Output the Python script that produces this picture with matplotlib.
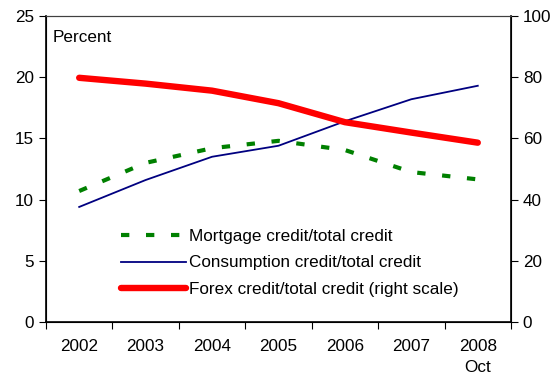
import matplotlib.pyplot as plt
import numpy as np

# data
years = ['2002', '2003', '2004', '2005', '2006', '2007', '2008\nOct']
mortgage = [10.7, 13.0, 14.2, 14.8, 14.05, 12.25, 11.65]
consumption = [9.4, 11.6, 13.5, 14.4, 16.4, 18.2, 19.3]
forex = [79.8, 77.9, 75.6, 71.5, 65.3, 61.9, 58.6]

plt.rcParams['font.family'] = 'Liberation Sans'

fig = plt.figure(figsize=(5.6, 3.79), dpi=100)
ax = fig.add_axes([0.0821, 0.1504, 0.8304, 0.8074])
ax2 = ax.twinx()

x = np.arange(len(years))
l1, = ax.plot(x, mortgage, color='#008000', lw=3, ls=(0, (2, 4)),
              label='Mortgage credit/total credit')
l2, = ax.plot(x, consumption, color='#000080', lw=1.3,
              label='Consumption credit/total credit')
l3, = ax2.plot(x, forex, color='#ff0000', lw=4.6, solid_capstyle='round',
               label='Forex credit/total credit (right scale)')

ax.set_xlim(-0.5, len(years) - 0.5)
ax.set_ylim(0, 25)
ax2.set_ylim(0, 100)
ax.set_yticks(range(0, 26, 5))
ax2.set_yticks(range(0, 101, 20))
ax.set_xticks(np.arange(-0.5, len(years), 1))
ax.set_xticklabels([])
ax.set_xticks(x, minor=True)
ax.set_xticklabels(years, minor=True, linespacing=1.5)
ax.tick_params(axis='x', which='minor', length=0, pad=12, labelsize=12.3)
ax.tick_params(axis='x', which='major', length=5, direction='out')
ax.tick_params(axis='y', labelsize=12.3, length=5, direction='out')
ax2.tick_params(axis='y', labelsize=12.3, length=5, direction='out')

for a in (ax, ax2):
    a.spines['top'].set_color('#404040')
    a.spines['top'].set_linewidth(0.8)
ax.spines['left'].set_linewidth(1.2)
ax.spines['bottom'].set_linewidth(1.2)
ax2.spines['right'].set_linewidth(1.2)

ax.text(0.015, 0.955, 'Percent', transform=ax.transAxes, fontsize=12.3,
        va='top', ha='left')

ax.legend(handles=[l1, l2, l3], loc='lower left', bbox_to_anchor=(0.128, 0.03),
          frameon=False, fontsize=12.3, handlelength=3.8, handletextpad=0.2,
          labelspacing=0.7)

fig.savefig('out.png', dpi=100)
